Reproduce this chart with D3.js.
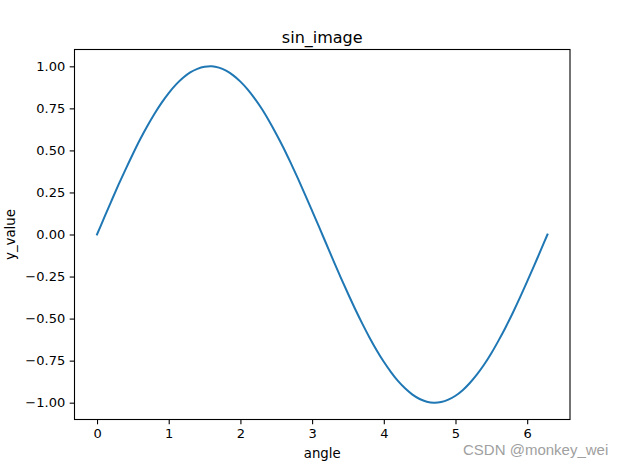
<!DOCTYPE html>
<html><head><meta charset="utf-8">
<script src="https://cdn.jsdelivr.net/npm/d3@7"></script>
<style>body{margin:0;background:#fff}svg{display:block}</style>
</head><body>
<svg id="c" width="624" height="467"></svg>
<script>
const angles = [0,0.1,0.2,0.3,0.4,0.5,0.6,0.7,0.8,0.9,1.0,1.1,1.2,1.3,1.4,1.5,1.6,1.7,1.8,1.9,2.0,2.1,2.2,2.3,2.4,2.5,2.6,2.7,2.8,2.9,3.0,3.1,3.2,3.3,3.4,3.5,3.6,3.7,3.8,3.9,4.0,4.1,4.2,4.3,4.4,4.5,4.6,4.7,4.8,4.9,5.0,5.1,5.2,5.3,5.4,5.5,5.6,5.7,5.8,5.9,6.0,6.1,6.2,6.283];
const yValues = [0,0.100,0.199,0.296,0.389,0.479,0.565,0.644,0.717,0.783,0.841,0.891,0.932,0.964,0.985,0.997,1.000,0.992,0.974,0.946,0.909,0.863,0.808,0.746,0.675,0.598,0.516,0.427,0.335,0.239,0.141,0.042,-0.058,-0.158,-0.256,-0.351,-0.443,-0.530,-0.612,-0.688,-0.757,-0.818,-0.872,-0.916,-0.952,-0.978,-0.994,-1.000,-0.996,-0.982,-0.959,-0.926,-0.883,-0.832,-0.773,-0.706,-0.631,-0.551,-0.465,-0.374,-0.279,-0.182,-0.083,0.000];
const xTicks = [0,1,2,3,4,5,6];
const yTicks = [1.00,0.75,0.50,0.25,0.00,-0.25,-0.50,-0.75,-1.00];
const titleText = "sin_image", xLabel = "angle", yLabel = "y_value", watermark = "CSDN @monkey_wei";

const L = 74.5, R = 570, T = 49.5, B = 419.5;
const svg = d3.select("#c");
const font = "'DejaVu Sans', sans-serif";
const xMin = -0.05*6.283, xMax = 6.283*1.05;
const x = d3.scaleLinear().domain([xMin, xMax]).range([L, R]);
const y = d3.scaleLinear().domain([-1.1, 1.1]).range([B, T]);

const fmtY = v => (v < 0 ? "\u2212" : "") + Math.abs(v).toFixed(2);

// line
const pts = angles.map((a,i)=>[a,yValues[i]]);
svg.append("path").datum(pts)
  .attr("fill","none").attr("stroke","#1f77b4").attr("stroke-width",2)
  .attr("stroke-linecap","square")
  .attr("d", d3.line().x(d=>x(d[0])).y(d=>y(d[1])).curve(d3.curveCatmullRom));

// axes
const xa = svg.append("g").attr("transform",`translate(0,${B})`)
  .call(d3.axisBottom(x).tickValues(xTicks).tickFormat(d3.format("d")).tickSizeOuter(0).tickSize(4.8).tickPadding(4));
const ya = svg.append("g").attr("transform",`translate(${L},0)`)
  .call(d3.axisLeft(y).tickValues(yTicks).tickFormat(fmtY).tickSizeOuter(0).tickSize(4.8).tickPadding(4.5));
[xa,ya].forEach(g=>{
  g.select(".domain").remove();
  g.selectAll("line").attr("stroke","#000").attr("stroke-width",1.1);
  g.selectAll("text").attr("font-family",font).attr("font-size",13).attr("fill","#000");
});
xa.selectAll("text").attr("dy","0.72em");

// frame
svg.append("rect").attr("x",L).attr("y",T).attr("width",R-L).attr("height",B-T)
  .attr("fill","none").attr("stroke","#000").attr("stroke-width",1.1);

svg.append("text").attr("x",(L+R)/2).attr("y",42.5).attr("text-anchor","middle")
  .attr("font-family",font).attr("font-size",16).text(titleText);
svg.append("text").attr("x",(L+R)/2).attr("y",458).attr("text-anchor","middle")
  .attr("font-family",font).attr("font-size",13.3).text(xLabel);
svg.append("text").attr("transform",`translate(14.5,${(T+B)/2}) rotate(-90)`).attr("text-anchor","middle")
  .attr("font-family",font).attr("font-size",13.3).text(yLabel);

svg.append("text").attr("x",463).attr("y",455).attr("font-family","'Liberation Sans', Arial, sans-serif")
  .attr("font-size",15).attr("fill","#a0a0a0").text(watermark);
</script>
</body></html>
